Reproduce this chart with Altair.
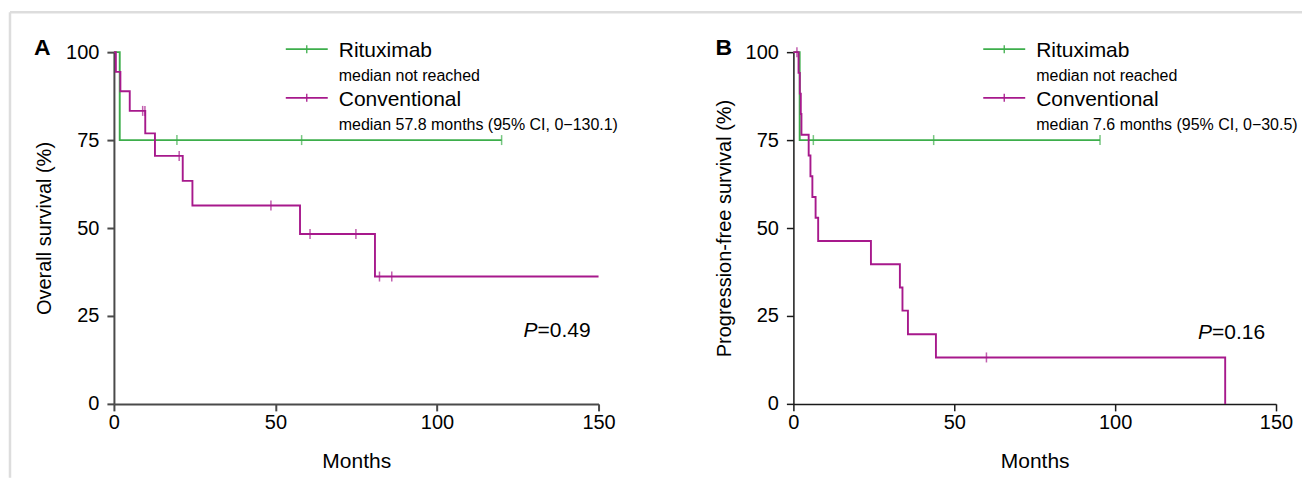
import altair as alt
import pandas as pd

# ---------------- data ----------------
groups = ["Rituximab", "Conventional"]
colors = ["#3DAE4B", "#A7198C"]

# Panel A: overall survival
a_rit_t = [0, 1.8, 120]
a_rit_s = [100, 75, 75]
a_rit_cens_t = [19.5, 58.1, 120]
a_rit_cens_s = [75, 75, 75]

a_con_t = [0, 0.6, 2.0, 4.9, 9.7, 12.7, 21.3, 24.3, 57.6, 80.8, 150]
a_con_s = [100, 94.4, 88.9, 83.3, 76.9, 70.5, 63.4, 56.4, 48.3, 36.2, 36.2]
a_con_cens_t = [8.9, 9.6, 20.2, 48.6, 60.7, 74.9, 82.2, 86.0]
a_con_cens_s = [83.3, 83.3, 70.5, 56.4, 48.3, 48.3, 36.2, 36.2]

# Panel B: progression-free survival
b_rit_t = [0, 1.95, 95.3]
b_rit_s = [100, 75, 75]
b_rit_cens_t = [6.2, 43.6, 95.3]
b_rit_cens_s = [75, 75, 75]

b_con_t = [0, 1.6, 2.0, 2.3, 2.5, 4.75, 5.3, 5.9, 6.9, 7.7, 24.1, 33.1, 33.9, 35.6, 44.3, 134.2]
b_con_s = [100, 94.1, 88.2, 82.4, 76.5, 70.6, 64.7, 58.8, 52.9, 46.3, 39.7, 33.1, 26.5, 19.8, 13.2, 0]
b_con_cens_t = [1.1, 60.0]
b_con_cens_s = [100, 13.2]

x_ticks = [0, 50, 100, 150]
y_ticks = [0, 25, 50, 75, 100]
x_title = "Months"
y_titles = ["Overall survival (%)", "Progression-free survival (%)"]
panel_letters = ["A", "B"]
legend_subs_a = ["median not reached", "median 57.8 months (95% CI, 0\u2212130.1)"]
legend_subs_b = ["median not reached", "median 7.6 months (95% CI, 0\u221230.5)"]
p_values = ["=0.49", "=0.16"]

FONT = "Liberation Sans"


def make_df(t_r, s_r, t_c, s_c):
    return pd.DataFrame({
        "t": list(t_r) + list(t_c),
        "s": list(s_r) + list(s_c),
        "group": [groups[0]] * len(t_r) + [groups[1]] * len(t_c),
    })


def panel(lines_df, cens_df, y_title, letter, subs, p_val, dom_color, dom_width,
          width, leg_x, p_x, p_y, letter_x, frame=False):
    color = alt.Color("group:N", scale=alt.Scale(domain=groups, range=colors), legend=None)
    xaxis = alt.Axis(values=x_ticks, title=x_title, grid=False, domainColor=dom_color,
                     tickColor=dom_color, domainWidth=dom_width, tickWidth=dom_width,
                     tickSize=7, labelPadding=2, labelFlush=False, titleFontSize=21,
                     titleY=47, titleBaseline="top")
    yaxis = alt.Axis(values=y_ticks, title=y_title, grid=False, domainColor=dom_color,
                     tickColor=dom_color, domainWidth=dom_width, tickWidth=dom_width,
                     tickSize=7, labelPadding=8, labelFlush=False, titleFontSize=20,
                     titleX=-59, titleY=176)
    x = alt.X("t:Q", scale=alt.Scale(domain=[0, 150], nice=False), axis=xaxis)
    y = alt.Y("s:Q", scale=alt.Scale(domain=[0, 100], nice=False), axis=yaxis)

    lines = alt.Chart(lines_df).mark_line(interpolate="step-after", strokeWidth=1.9).encode(
        x=x, y=y, color=color, detail="group:N")
    ticks = alt.Chart(cens_df).mark_tick(orient="vertical", size=10, thickness=1.5).encode(
        x=x, y=y, color=color)

    layers = []
    one = pd.DataFrame({"k": [0]})
    if frame:
        layers.append(alt.Chart(one).mark_rule(color="#dddddd", strokeWidth=2.5).encode(
            x=alt.value(-104), x2=alt.value(1189), y=alt.value(-40)))
        layers.append(alt.Chart(one).mark_rule(color="#dddddd", strokeWidth=2.5).encode(
            x=alt.value(-104), y=alt.value(-40), y2=alt.value(426)))
    layers += [lines, ticks]

    # panel letter
    layers.append(alt.Chart(one).mark_text(text=letter, font=FONT, fontSize=23, fontWeight="bold",
                                           align="left", baseline="alphabetic", color="black").encode(
        x=alt.value(letter_x), y=alt.value(3)))

    # legend
    for i, g in enumerate(groups):
        ly = -3 + i * 48.7
        layers.append(alt.Chart(one).mark_rule(color=colors[i], strokeWidth=1.8).encode(
            x=alt.value(leg_x), x2=alt.value(leg_x + 42), y=alt.value(ly)))
        layers.append(alt.Chart(one).mark_rule(color=colors[i], strokeWidth=1.3).encode(
            x=alt.value(leg_x + 21), y=alt.value(ly - 4), y2=alt.value(ly + 4)))
        layers.append(alt.Chart(one).mark_text(text=g, font=FONT, fontSize=21, align="left",
                                               baseline="alphabetic", color="black").encode(
            x=alt.value(leg_x + 53), y=alt.value(ly + 8)))
        layers.append(alt.Chart(one).mark_text(text=subs[i], font=FONT, fontSize=16, align="left",
                                               baseline="alphabetic", color="black").encode(
            x=alt.value(leg_x + 53), y=alt.value(ly + 32)))

    # P value
    layers.append(alt.Chart(one).mark_text(text="P", font=FONT, fontSize=21, fontStyle="italic",
                                           align="left", baseline="alphabetic", color="black").encode(
        x=alt.value(p_x), y=alt.value(p_y)))
    layers.append(alt.Chart(one).mark_text(text=p_val, font=FONT, fontSize=21,
                                           align="left", baseline="alphabetic", color="black").encode(
        x=alt.value(p_x + 14), y=alt.value(p_y)))

    return alt.layer(*layers).properties(width=width, height=352)


df_a = make_df(a_rit_t, a_rit_s, a_con_t, a_con_s)
cens_a = make_df(a_rit_cens_t, a_rit_cens_s, a_con_cens_t, a_con_cens_s)
df_b = make_df(b_rit_t, b_rit_s, b_con_t, b_con_s)
cens_b = make_df(b_rit_cens_t, b_rit_cens_s, b_con_cens_t, b_con_cens_s)

pa = panel(df_a, cens_a, y_titles[0], panel_letters[0], legend_subs_a, p_values[0],
           "#4a4a4a", 2, 485, 172, 410, 285, -80, frame=True)
pb = panel(df_b, cens_b, y_titles[1], panel_letters[1], legend_subs_b, p_values[1],
           "#1a1a1a", 1.5, 483, 190, 405, 287, -78)

chart = alt.hconcat(pa, pb, spacing=195, bounds="flush").properties(
    padding={"left": 0, "top": 2, "right": 0, "bottom": 0}
).configure_view(stroke=None).configure_axis(
    labelFont=FONT, titleFont=FONT, labelFontSize=20,
    labelColor="black", titleColor="black", titleFontWeight="normal"
)

chart.save("out.html", embed_options={"renderer": "svg", "actions": False})
